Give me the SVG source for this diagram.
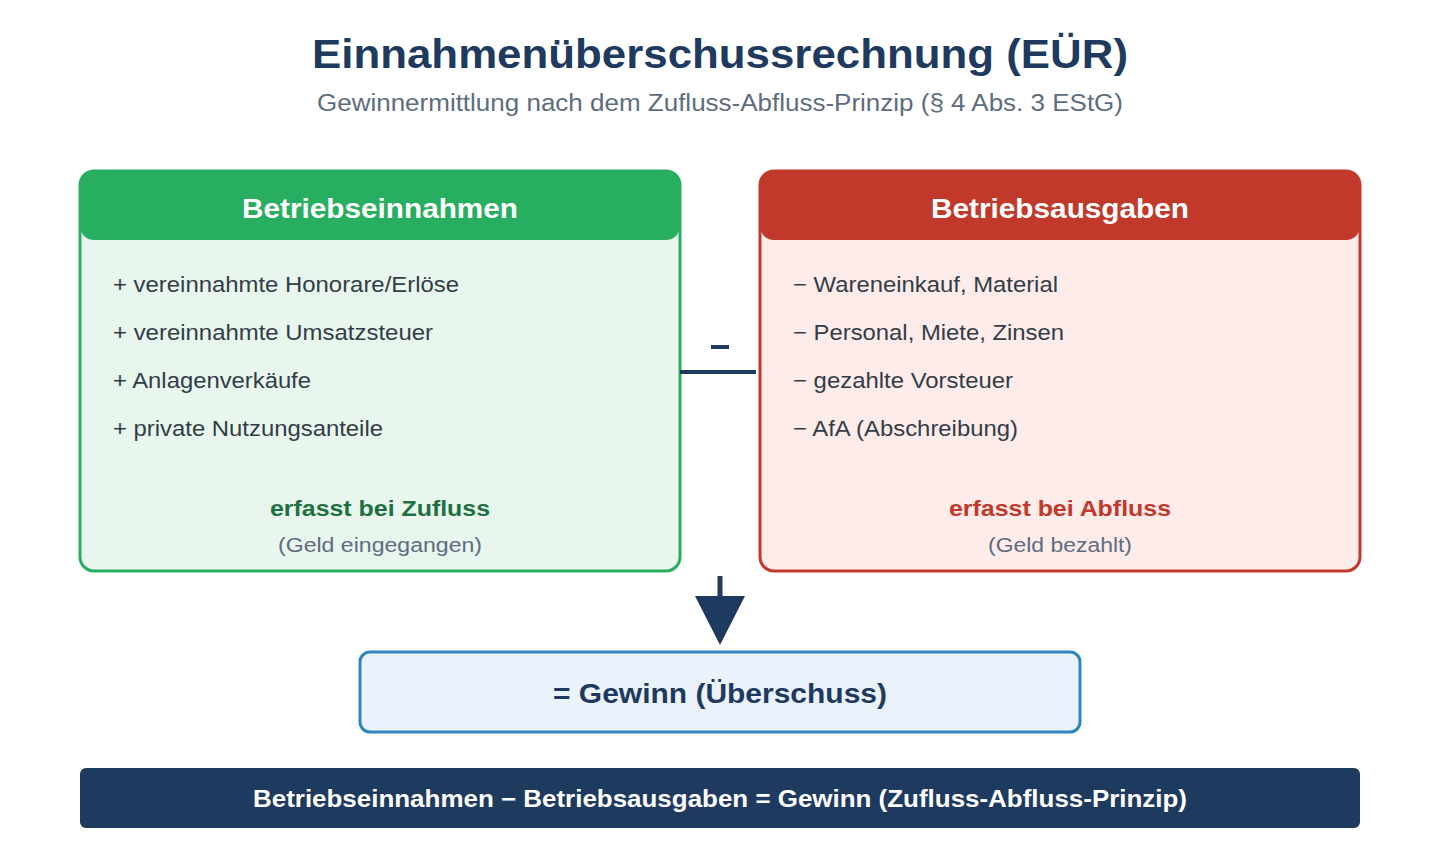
<svg xmlns="http://www.w3.org/2000/svg" width="1440" height="860" viewBox="0 0 1440 860">
<style>
text{font-family:"Liberation Sans",Arial,sans-serif}
.title{font-size:40px;font-weight:bold;fill:#1f3a5f}
.sub{font-size:23px;fill:#5d6d7e}
.hdr{font-size:27px;font-weight:bold;fill:#fff}
.item{font-size:22px;fill:#333d47}
.note{font-size:20px;fill:#5d6d7e}
.foot{font-size:22px;font-weight:bold}
</style>
<rect width="1440" height="860" fill="#fff"/>
<text class="title" x="720" y="68" text-anchor="middle" textLength="816" lengthAdjust="spacingAndGlyphs">Einnahmenüberschussrechnung (EÜR)</text>
<text class="sub" x="720" y="111" text-anchor="middle" textLength="806" lengthAdjust="spacingAndGlyphs">Gewinnermittlung nach dem Zufluss-Abfluss-Prinzip (§ 4 Abs. 3 EStG)</text>

<g id="einnahmen">
<rect x="80" y="171" width="600" height="400" rx="14" fill="#e8f6ee" stroke="#27ae60" stroke-width="3"/>
<rect x="80" y="171" width="600" height="69" rx="14" fill="#27ae60"/>
<text class="hdr" x="380" y="218" text-anchor="middle" textLength="276" lengthAdjust="spacingAndGlyphs">Betriebseinnahmen</text>
<text class="item" x="113" y="292" textLength="346" lengthAdjust="spacingAndGlyphs">+ vereinnahmte Honorare/Erlöse</text>
<text class="item" x="113" y="340" textLength="320" lengthAdjust="spacingAndGlyphs">+ vereinnahmte Umsatzsteuer</text>
<text class="item" x="113" y="388" textLength="198" lengthAdjust="spacingAndGlyphs">+ Anlagenverkäufe</text>
<text class="item" x="113" y="436" textLength="270" lengthAdjust="spacingAndGlyphs">+ private Nutzungsanteile</text>
<text class="foot" x="380" y="516" text-anchor="middle" fill="#1e7040" textLength="220" lengthAdjust="spacingAndGlyphs">erfasst bei Zufluss</text>
<text class="note" x="380" y="552" text-anchor="middle" textLength="204" lengthAdjust="spacingAndGlyphs">(Geld eingegangen)</text>
</g>

<g id="ausgaben">
<rect x="760" y="171" width="600" height="400" rx="14" fill="#fdecea" stroke="#c0392b" stroke-width="3"/>
<rect x="760" y="171" width="600" height="69" rx="14" fill="#c0392b"/>
<text class="hdr" x="1060" y="218" text-anchor="middle" textLength="258" lengthAdjust="spacingAndGlyphs">Betriebsausgaben</text>
<text class="item" x="793" y="292" textLength="265" lengthAdjust="spacingAndGlyphs">− Wareneinkauf, Material</text>
<text class="item" x="793" y="340" textLength="271" lengthAdjust="spacingAndGlyphs">− Personal, Miete, Zinsen</text>
<text class="item" x="793" y="388" textLength="220" lengthAdjust="spacingAndGlyphs">− gezahlte Vorsteuer</text>
<text class="item" x="793" y="436" textLength="225" lengthAdjust="spacingAndGlyphs">− AfA (Abschreibung)</text>
<text class="foot" x="1060" y="516" text-anchor="middle" fill="#c0392b" textLength="222" lengthAdjust="spacingAndGlyphs">erfasst bei Abfluss</text>
<text class="note" x="1060" y="552" text-anchor="middle" textLength="144" lengthAdjust="spacingAndGlyphs">(Geld bezahlt)</text>
</g>

<g id="connectors">
<rect x="711" y="345" width="18" height="4" fill="#1f3a5f"/>
<line x1="680" y1="372" x2="756" y2="372" stroke="#1f3a5f" stroke-width="4"/>
<line x1="720" y1="576" x2="720" y2="598" stroke="#1f3a5f" stroke-width="5"/>
<polygon points="695,596 745,596 720,645" fill="#1f3a5f"/>
</g>

<g id="gewinn">
<rect x="360" y="652" width="720" height="80" rx="10" fill="#eaf2fb" stroke="#2e86c1" stroke-width="3"/>
<text x="720" y="703" text-anchor="middle" font-size="27" font-weight="bold" fill="#1f3a5f" textLength="334" lengthAdjust="spacingAndGlyphs">= Gewinn (Überschuss)</text>
</g>

<g id="formel">
<rect x="80" y="768" width="1280" height="60" rx="6" fill="#1f3a5f"/>
<text x="720" y="807" text-anchor="middle" font-size="23" font-weight="bold" fill="#fff" textLength="934" lengthAdjust="spacingAndGlyphs">Betriebseinnahmen − Betriebsausgaben = Gewinn (Zufluss-Abfluss-Prinzip)</text>
</g>
</svg>
